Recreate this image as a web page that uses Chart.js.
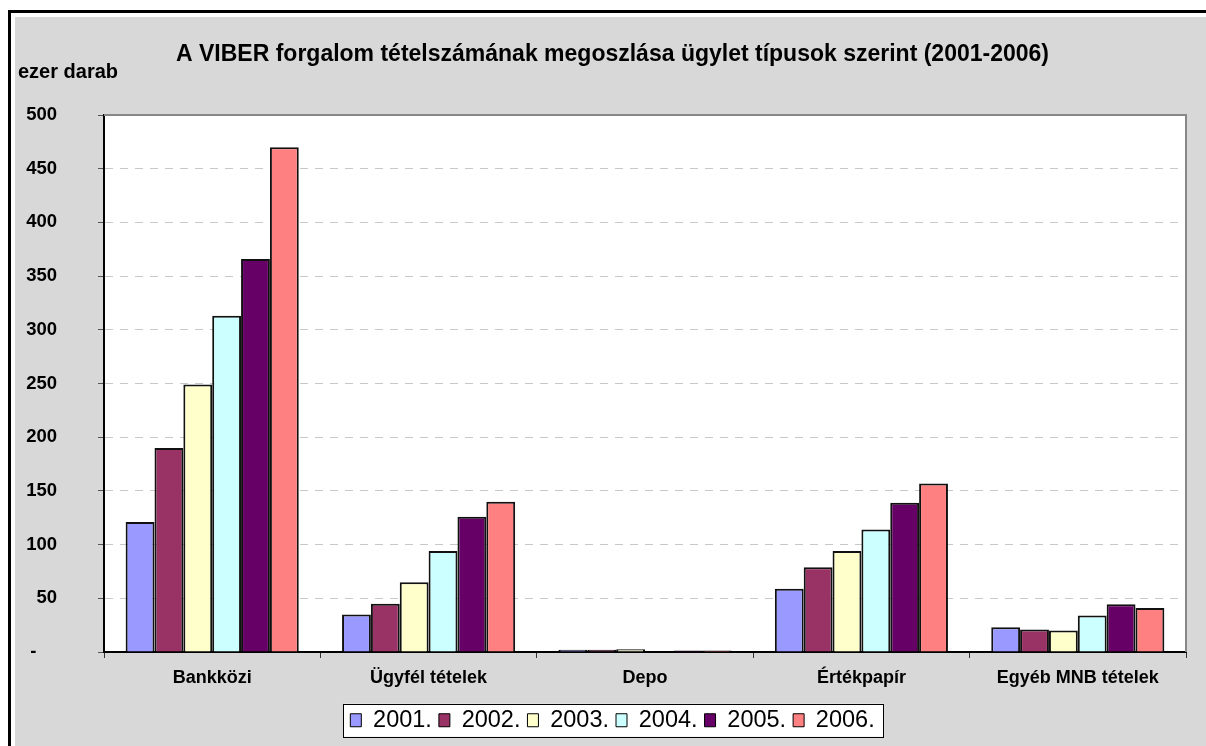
<!DOCTYPE html>
<html>
<head>
<meta charset="utf-8">
<title>VIBER forgalom</title>
<script src="https://cdn.jsdelivr.net/npm/chart.js@4"></script>
<style>
  html, body { margin: 0; padding: 0; background: #fff; }
  canvas { display: block; }
</style>
</head>
<body>
<canvas id="viberChart" width="1206" height="746"></canvas>
<script>
// Categories and yearly values (ezer darab)
const categories = ['Bankközi', 'Ügyfél tételek', 'Depo', 'Értékpapír', 'Egyéb MNB tételek'];
const years = ['2001.', '2002.', '2003.', '2004.', '2005.', '2006.'];

const v2001 = [121, 35, 2, 59, 23];
const v2002 = [190, 45, 2, 79, 21];
const v2003 = [249, 65, 2.5, 94, 20];
const v2004 = [313, 94, 0, 114, 34];
const v2005 = [366, 126, 1.5, 139, 44.5];
const v2006 = [470, 140, 1.5, 157, 41];

const yearColors = ['#9999FF', '#993366', '#FFFFCC', '#CCFFFF', '#660066', '#FF8080'];
const yTicks = [0, 50, 100, 150, 200, 250, 300, 350, 400, 450, 500];

const FONT = '"Liberation Sans", Arial, sans-serif';
Chart.defaults.font.family = FONT;
Chart.defaults.color = '#000';

// background, frame, plot area and legend box
const framePlugin = {
  id: 'frame',
  beforeDraw(chart) {
    const { ctx, width, height, chartArea } = chart;
    ctx.save();
    ctx.fillStyle = '#fff';
    ctx.fillRect(0, 0, width, height);
    ctx.fillStyle = '#000';
    ctx.fillRect(8, 10, width - 8, 3);
    ctx.fillRect(8, 10, 3, height - 10);
    ctx.fillStyle = '#d8d8d8';
    ctx.fillRect(15, 17, width - 15, height - 17);
    ctx.fillStyle = '#fff';
    ctx.fillRect(chartArea.left, chartArea.top, chartArea.right - chartArea.left, chartArea.bottom - chartArea.top);

    // legend box
    const hb = chart.legend.legendHitBoxes;
    if (hb && hb.length) {
      const first = hb[0];
      const last = hb[hb.length - 1];
      const cy = first.top + first.height / 2;
      const x0 = first.left - 7;
      const x1 = last.left + last.width + 9;
      ctx.fillStyle = '#fff';
      ctx.fillRect(x0, cy - 16.5, x1 - x0, 33);
      ctx.strokeStyle = '#000';
      ctx.lineWidth = 1;
      ctx.strokeRect(Math.round(x0) + 0.5, Math.round(cy - 16.5) + 0.5, Math.round(x1 - x0), 33);
    }

    // unit label
    ctx.fillStyle = '#000';
    ctx.font = 'bold 20px ' + FONT;
    ctx.textAlign = 'left';
    ctx.textBaseline = 'alphabetic';
    ctx.fillText('ezer darab', 18, 78);
    ctx.restore();
  },
  beforeDatasetsDraw(chart) {
    const { ctx, chartArea } = chart;
    ctx.save();
    ctx.strokeStyle = '#888';
    ctx.lineWidth = 2;
    ctx.beginPath();
    ctx.moveTo(chartArea.left, chartArea.top);
    ctx.lineTo(chartArea.right, chartArea.top);
    ctx.lineTo(chartArea.right, chartArea.bottom);
    ctx.stroke();
    ctx.restore();
  }
};

const seriesValues = [v2001, v2002, v2003, v2004, v2005, v2006];
const datasets = years.map((y, i) => ({
  label: y,
  data: seriesValues[i],
  backgroundColor: yearColors[i],
  borderColor: '#111',
  borderWidth: 2,
  categoryPercentage: 0.8,
  barPercentage: 1.0
}));

new Chart(document.getElementById('viberChart'), {
  type: 'bar',
  data: { labels: categories, datasets: datasets },
  plugins: [framePlugin],
  options: {
    responsive: false,
    animation: false,
    layout: { padding: { left: 19, top: 17, right: 0, bottom: 4 } },
    plugins: {
      title: {
        display: true,
        text: 'A VIBER forgalom tételszámának megoszlása ügylet típusok szerint (2001-2006)',
        color: '#000',
        font: { size: 23, weight: 'bold' },
        padding: { top: 24, bottom: 46.4 }
      },
      legend: {
        position: 'bottom',
        labels: {
          color: '#000',
          font: { size: 23.5 },
          boxWidth: 11,
          boxHeight: 13,
          padding: 7,
          generateLabels(chart) {
            return Chart.defaults.plugins.legend.labels.generateLabels(chart)
              .map(item => ({ ...item, lineWidth: 1, strokeStyle: '#000' }));
          }
        }
      },
      tooltip: { enabled: false }
    },
    scales: {
      x: {
        grid: {
          drawOnChartArea: false,
          drawTicks: true,
          tickLength: 6,
          color: '#333'
        },
        border: { color: '#000', width: 2 },
        ticks: {
          color: '#000',
          font: { size: 18, weight: 'bold' },
          padding: 9,
          maxRotation: 0
        },
        afterFit(scale) { scale.height = 49.5; }
      },
      y: {
        min: 0,
        max: 500,
        afterBuildTicks(scale) {
          scale.ticks = yTicks.map(v => ({ value: v }));
        },
        grid: {
          color: '#c8c8c8',
          lineWidth: 1,
          tickColor: '#555',
          tickLength: 6,
          tickBorderDash: []
        },
        border: { color: '#000', width: 2, dash: [8, 7] },
        ticks: {
          color: '#000',
          font: { size: 18.5, weight: 'bold' },
          padding: 41,
          callback: (val) => val === 0 ? '-    ' : String(val)
        },
        afterFit(scale) { scale.width = 85; }
      },
      // empty right-hand margin so the plot ends where the reference does
      yRight: {
        position: 'right',
        min: 0,
        max: 500,
        grid: { display: false },
        border: { display: false },
        ticks: { display: false },
        afterFit(scale) { scale.width = 20; }
      }
    }
  }
});
</script>
</body>
</html>
